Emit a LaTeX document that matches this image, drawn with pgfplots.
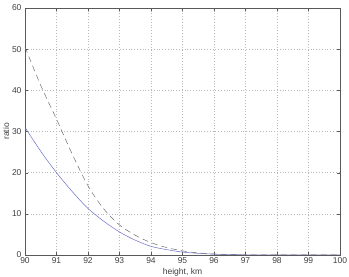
\documentclass[border=0pt]{standalone}
\usepackage{pgfplots}
\pgfplotsset{compat=1.18}
\usepackage{fontspec}
\setmainfont{Liberation Sans}
\definecolor{solidc}{RGB}{110,110,200}
\definecolor{dashc}{RGB}{110,110,110}
\begin{document}
\begin{tikzpicture}
\begin{axis}[
  scale only axis,
  width=315pt, height=247pt,
  xmin=90, xmax=100, ymin=0, ymax=60,
  xtick={90,91,...,100}, ytick={0,10,...,60},
  grid=major,
  major grid style={dash pattern=on 0.8pt off 2pt, gray!55, line width=0.5pt},
  axis line style={gray!70!black, line width=0.5pt},
  tick style={gray!70!black},
  tick align=inside,
  major tick length=3pt,
  xtick pos=both, ytick pos=both,
  ticklabel style={font=\fontsize{8.5}{9}\selectfont, text=black!75},
  /pgf/number format/assume math mode=true,
  xlabel={height, km}, ylabel={ratio},
  label style={font=\fontsize{8.5}{9}\selectfont, text=black!75},
  xlabel style={yshift=2.5pt},
  ylabel style={yshift=-4pt},
  xticklabel style={yshift=1pt},
]
\addplot[solidc, line width=0.5pt, smooth] coordinates {
 (90,31) (90.5,25.2) (91,20) (91.5,15.4) (92,11.3) (92.5,8.2) (93,5.6) (93.5,3.6) (94,2.1) (94.5,1.3) (95,0.7) (95.5,0.4) (96,0.2) (96.5,0.1) (97,0.05) (98,0.02) (99,0.01) (100,0)
};
\addplot[dashc, line width=0.5pt, dash pattern=on 6pt off 4pt, smooth] coordinates {
 (90,50.5) (90.5,41.2) (91,33) (91.5,24.5) (92,16.8) (92.5,11.2) (93,7.3) (93.5,4.8) (94,3.0) (94.5,1.8) (95,1.0) (95.5,0.5) (96,0.25) (96.5,0.1) (97,0.05) (98,0.02) (99,0.01) (100,0)
};
\end{axis}
\pgfresetboundingbox
\path ([shift={(-25pt,-22pt)}]current axis.south west) rectangle ([shift={(9pt,8pt)}]current axis.north east);
\end{tikzpicture}
\end{document}
